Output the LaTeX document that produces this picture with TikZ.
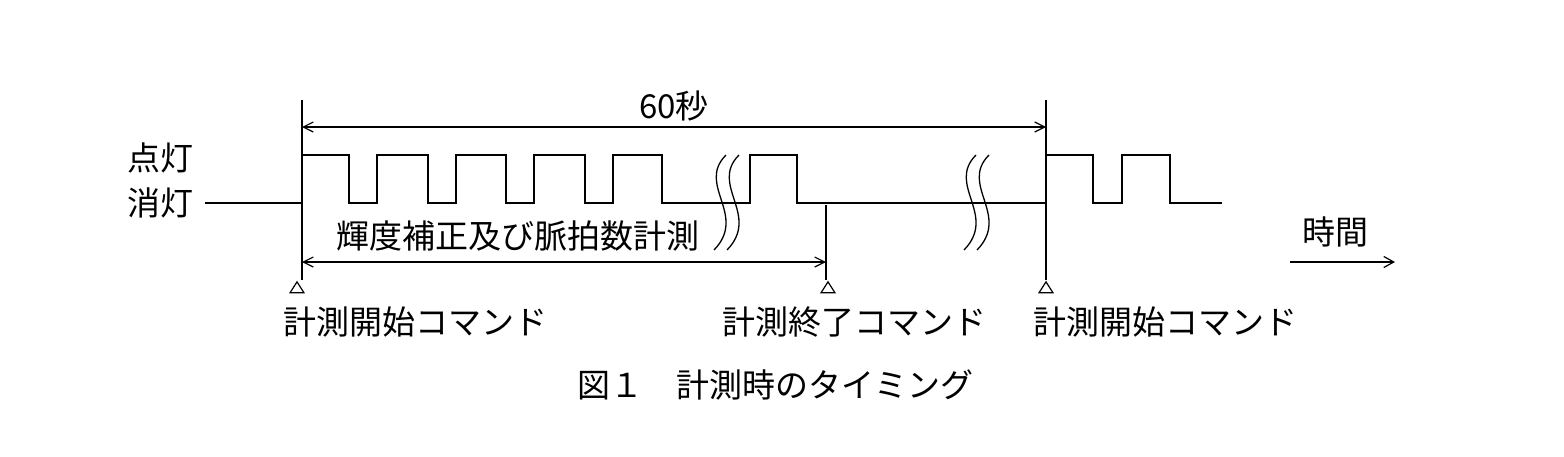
\documentclass[tikz,border=0pt]{standalone}
\usepackage{fontspec}
\newfontfamily\cjk{Noto Sans CJK JP}
\usetikzlibrary{arrows.meta,shapes.geometric}
\begin{document}
\begin{tikzpicture}[x=1pt,y=-1pt,line width=1.3pt,
  lbl/.style={font=\cjk\fontsize{33}{33}\selectfont,inner sep=0pt},
  dim/.style={{Straight Barb[length=10pt,width=10pt]}-{Straight Barb[length=10pt,width=10pt]}},
  tri/.style={draw,isosceles triangle,shape border rotate=90,isosceles triangle stretches,minimum width=14pt,minimum height=11pt,inner sep=0pt,line width=1.2pt},
  brk/.style={line width=1.3pt}]
\useasboundingbox (0,0) rectangle (1564,456);
% signal
\draw (205,203) -- (302,203) -- (302,155) -- (349,155) -- (349,203) -- (377,203) -- (377,155) -- (428,155) -- (428,203) -- (456,203) -- (456,155) -- (506,155) -- (506,203) -- (534,203) -- (534,155) -- (585,155) -- (585,203) -- (613,203) -- (613,155) -- (662,155) -- (662,203) -- (750,203) -- (750,155) -- (797,155) -- (797,203) -- (1046,203) -- (1046,155) -- (1093,155) -- (1093,203) -- (1122,203) -- (1122,155) -- (1170,155) -- (1170,203) -- (1222,203);
% breaks
\foreach \bx in {718,731,968,981}{
  \draw[brk] (\bx+8,155) .. controls (\bx-22,185) and (\bx+30,215) .. (\bx-4,250);
}
% verticals
\coordinate (a0) at (302,100); \coordinate (a1) at (302,280);
\coordinate (b0) at (1046,100); \coordinate (b1) at (1046,280);
\coordinate (c0) at (826,205); \coordinate (c1) at (826,280);
\draw[line width=1.2pt] (a0) -- (a1);
\draw[line width=1.2pt] (b0) -- (b1);
\draw[line width=1.2pt] (c0) -- (c1);
% dimensions
\coordinate (d1) at (302,127); \coordinate (d2) at (1046,127);
\draw[dim,line width=1.2pt] (d1) -- node[lbl,above=5pt] {60秒} (d2);
\coordinate (e1) at (302,262); \coordinate (e2) at (826,262);
\draw[dim,line width=1.2pt] (e1) -- (e2);
\node[lbl] (t1) at (518,236) {輝度補正及び脈拍数計測};
% triangles and labels
\node[tri] (k1) at (297,289) {};
\node[tri] (k2) at (828,289) {};
\node[tri] (k3) at (1046,289) {};
\node[lbl,anchor=west] (l1) at (283,322) {計測開始コマンド};
\node[lbl,anchor=west] (l2) at (722,322) {計測終了コマンド};
\node[lbl,anchor=west] (l3) at (1033,322) {計測開始コマンド};
% left labels
\node[lbl] (on) at (160,158) {点灯};
\node[lbl] (off) at (160,203) {消灯};
% time
\node[lbl] (tm) at (1335,232) {時間};
\coordinate (f1) at (1290,262); \coordinate (f2) at (1395,262);
\draw[-{Straight Barb[length=10pt,width=11pt]},line width=1.2pt] (f1) -- (f2);
% caption
\node[lbl] (cap) at (775,385) {図１\quad 計測時のタイミング};
\end{tikzpicture}
\end{document}
